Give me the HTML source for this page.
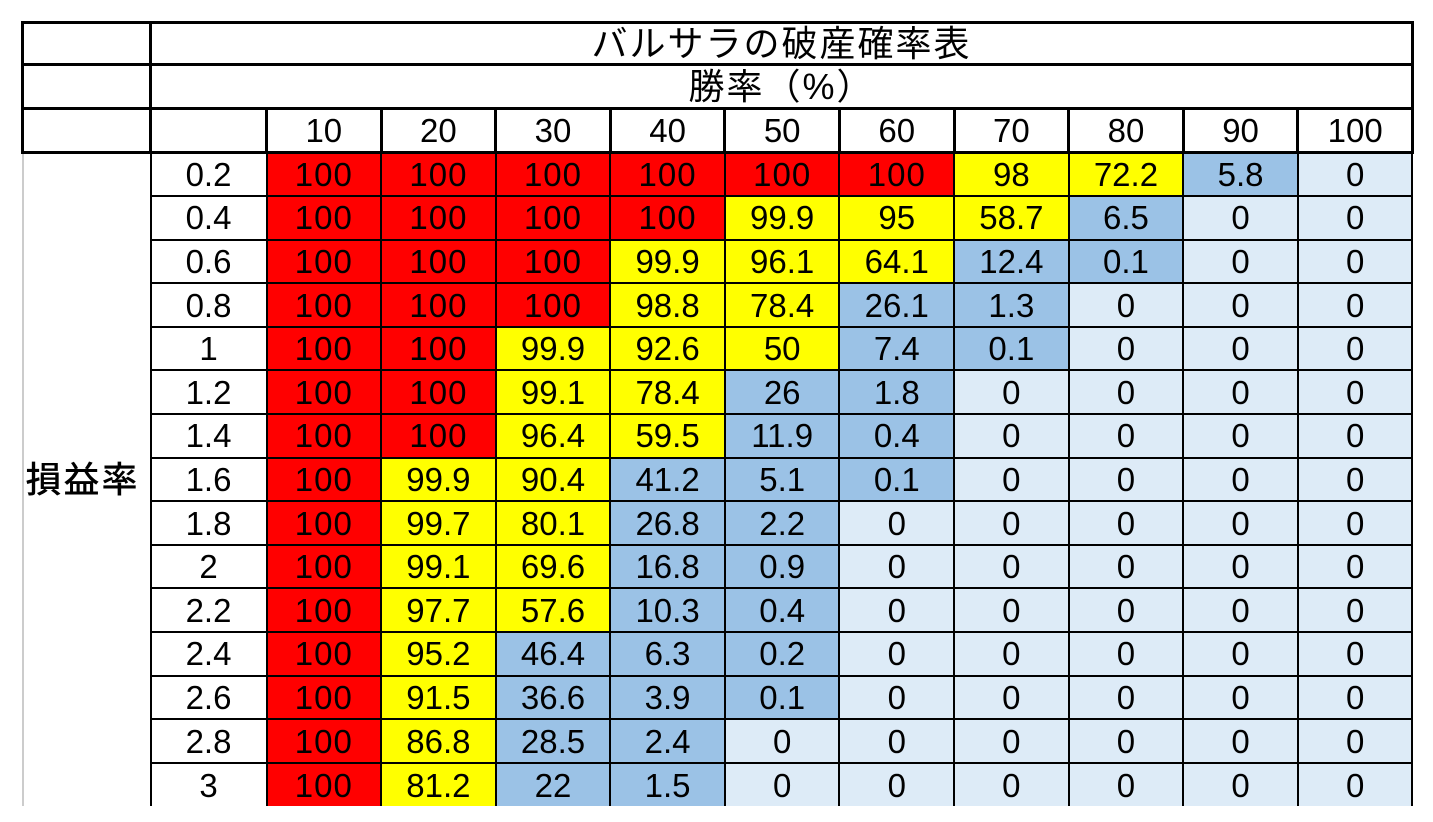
<!DOCTYPE html>
<html><head><meta charset="utf-8"><style>
body{margin:0;background:#fff;width:1433px;height:822px;overflow:hidden;position:relative}
table{position:absolute;left:21px;top:21px;border-collapse:collapse;table-layout:fixed;font-family:"Liberation Sans","Noto Sans CJK JP",sans-serif;font-size:33px;color:#000}
td{border:2px solid #000;padding:0;text-align:center;vertical-align:middle;overflow:hidden;white-space:nowrap;line-height:1;font-size:33px}
tr.h td{border-width:3px}
.r{background:#ff0000;letter-spacing:1px}.y{background:#ffff00}.b{background:#9bc2e6}.l{background:#ddebf7}
td.lab{border-left:2px solid #ccc;border-bottom:none;font-size:36px;text-align:left;padding-left:2px;letter-spacing:2px;font-weight:500}
td.t{font-size:36px;letter-spacing:2px}
</style></head><body>
<table>
<colgroup><col style="width:128px"><col style="width:116px"><col style="width:114.6px"><col style="width:114.6px"><col style="width:114.6px"><col style="width:114.6px"><col style="width:114.6px"><col style="width:114.6px"><col style="width:114.6px"><col style="width:114.6px"><col style="width:114.6px"><col style="width:114.6px"></colgroup>
<tr class="h" style="height:42px"><td></td><td colspan="11" class="t">バルサラの破産確率表</td></tr>
<tr class="h" style="height:44px"><td></td><td colspan="11" class="t">勝率（%）</td></tr>
<tr class="h" style="height:44px"><td></td><td></td><td>10</td><td>20</td><td>30</td><td>40</td><td>50</td><td>60</td><td>70</td><td>80</td><td>90</td><td>100</td></tr>
<tr style="height:43.6px"><td rowspan="15" class="lab">損益率</td><td>0.2</td><td class="r">100</td><td class="r">100</td><td class="r">100</td><td class="r">100</td><td class="r">100</td><td class="r">100</td><td class="y">98</td><td class="y">72.2</td><td class="b">5.8</td><td class="l">0</td></tr>
<tr style="height:43.6px"><td>0.4</td><td class="r">100</td><td class="r">100</td><td class="r">100</td><td class="r">100</td><td class="y">99.9</td><td class="y">95</td><td class="y">58.7</td><td class="b">6.5</td><td class="l">0</td><td class="l">0</td></tr>
<tr style="height:43.6px"><td>0.6</td><td class="r">100</td><td class="r">100</td><td class="r">100</td><td class="y">99.9</td><td class="y">96.1</td><td class="y">64.1</td><td class="b">12.4</td><td class="b">0.1</td><td class="l">0</td><td class="l">0</td></tr>
<tr style="height:43.6px"><td>0.8</td><td class="r">100</td><td class="r">100</td><td class="r">100</td><td class="y">98.8</td><td class="y">78.4</td><td class="b">26.1</td><td class="b">1.3</td><td class="l">0</td><td class="l">0</td><td class="l">0</td></tr>
<tr style="height:43.6px"><td>1</td><td class="r">100</td><td class="r">100</td><td class="y">99.9</td><td class="y">92.6</td><td class="y">50</td><td class="b">7.4</td><td class="b">0.1</td><td class="l">0</td><td class="l">0</td><td class="l">0</td></tr>
<tr style="height:43.6px"><td>1.2</td><td class="r">100</td><td class="r">100</td><td class="y">99.1</td><td class="y">78.4</td><td class="b">26</td><td class="b">1.8</td><td class="l">0</td><td class="l">0</td><td class="l">0</td><td class="l">0</td></tr>
<tr style="height:43.6px"><td>1.4</td><td class="r">100</td><td class="r">100</td><td class="y">96.4</td><td class="y">59.5</td><td class="b">11.9</td><td class="b">0.4</td><td class="l">0</td><td class="l">0</td><td class="l">0</td><td class="l">0</td></tr>
<tr style="height:43.6px"><td>1.6</td><td class="r">100</td><td class="y">99.9</td><td class="y">90.4</td><td class="b">41.2</td><td class="b">5.1</td><td class="b">0.1</td><td class="l">0</td><td class="l">0</td><td class="l">0</td><td class="l">0</td></tr>
<tr style="height:43.6px"><td>1.8</td><td class="r">100</td><td class="y">99.7</td><td class="y">80.1</td><td class="b">26.8</td><td class="b">2.2</td><td class="l">0</td><td class="l">0</td><td class="l">0</td><td class="l">0</td><td class="l">0</td></tr>
<tr style="height:43.6px"><td>2</td><td class="r">100</td><td class="y">99.1</td><td class="y">69.6</td><td class="b">16.8</td><td class="b">0.9</td><td class="l">0</td><td class="l">0</td><td class="l">0</td><td class="l">0</td><td class="l">0</td></tr>
<tr style="height:43.6px"><td>2.2</td><td class="r">100</td><td class="y">97.7</td><td class="y">57.6</td><td class="b">10.3</td><td class="b">0.4</td><td class="l">0</td><td class="l">0</td><td class="l">0</td><td class="l">0</td><td class="l">0</td></tr>
<tr style="height:43.6px"><td>2.4</td><td class="r">100</td><td class="y">95.2</td><td class="b">46.4</td><td class="b">6.3</td><td class="b">0.2</td><td class="l">0</td><td class="l">0</td><td class="l">0</td><td class="l">0</td><td class="l">0</td></tr>
<tr style="height:43.6px"><td>2.6</td><td class="r">100</td><td class="y">91.5</td><td class="b">36.6</td><td class="b">3.9</td><td class="b">0.1</td><td class="l">0</td><td class="l">0</td><td class="l">0</td><td class="l">0</td><td class="l">0</td></tr>
<tr style="height:43.6px"><td>2.8</td><td class="r">100</td><td class="y">86.8</td><td class="b">28.5</td><td class="b">2.4</td><td class="l">0</td><td class="l">0</td><td class="l">0</td><td class="l">0</td><td class="l">0</td><td class="l">0</td></tr>
<tr style="height:43.6px"><td style="border-bottom:none">3</td><td class="r" style="border-bottom:none">100</td><td class="y" style="border-bottom:none">81.2</td><td class="b" style="border-bottom:none">22</td><td class="b" style="border-bottom:none">1.5</td><td class="l" style="border-bottom:none">0</td><td class="l" style="border-bottom:none">0</td><td class="l" style="border-bottom:none">0</td><td class="l" style="border-bottom:none">0</td><td class="l" style="border-bottom:none">0</td><td class="l" style="border-bottom:none">0</td></tr>
</table>
</body></html>
